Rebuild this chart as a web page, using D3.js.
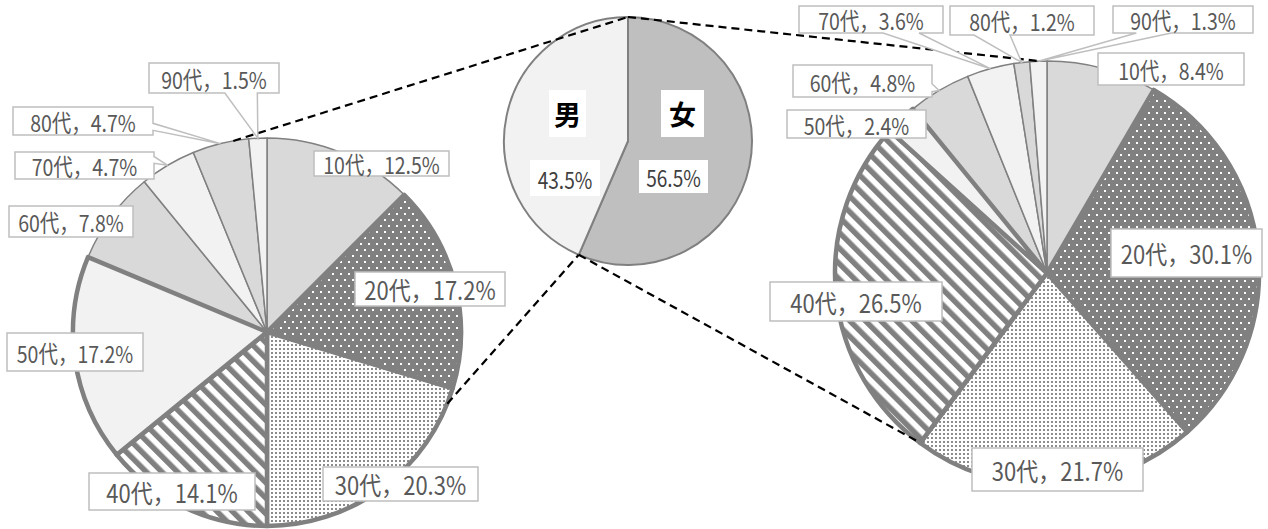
<!DOCTYPE html>
<html><head><meta charset="utf-8">
<script src="https://cdn.jsdelivr.net/npm/d3@7"></script>
<style>
html,body{margin:0;padding:0;background:#fff;}
svg{display:block;}
text{font-family:"Noto Sans CJK JP","Noto Sans",sans-serif;}
</style></head>
<body>
<svg id="chart" width="1268" height="529"></svg>
<script>
// ---- data ----
const categories = ["10代","20代","30代","40代","50代","60代","70代","80代","90代"];
const maleValues = [12.5,17.2,20.3,14.1,17.2,7.8,4.7,4.7,1.5];
const femaleValues = [8.4,30.1,21.7,26.5,2.4,4.8,3.6,1.2,1.3];
const genderLabels = ["女","男"];
const genderValues = [56.5,43.5];

// ---- layout ----
const leftPie = {cx:267, cy:332, r:194};
const midPie = {cx:628, cy:141, r:124};
const rightPie = {cx:1047, cy:273, r:212};
const leftBoxes = [[314,151,135,25],[355,272,150,34],[323,467,155,34],[89,473,166,37],[7,333,136,38],[9,206,124,31],[15,152,139,27],[13,107,140,28],[149,63,130,30]];
const rightBoxes = [[1098,53,146,32],[1111,229,151,48],[972,448,171,43],[770,282,172,39],[787,110,139,28],[793,65,139,32],[799,6,144,27],[950,6,144,29],[1113,6,140,27]];
const genderNameBoxes = [[661,90,43,47],[549,90,37,47]];
const genderPctBoxes = [[639,160,69,33],[530,160,70,36]];
const fills = ["#d9d9d9","url(#darkDots)","url(#lightDots)","url(#stripes)","#f2f2f2","#d9d9d9","#f2f2f2","#d9d9d9","#f2f2f2"];
const thick = [false,true,true,true,true,false,false,false,false];
const largeFont = [false,true,true,true,false,false,false,false,false];

const svg = d3.select("#chart");
const defs = svg.append("defs");
// dark dots
const p1 = defs.append("pattern").attr("id","darkDots").attr("patternUnits","userSpaceOnUse").attr("width",8).attr("height",12);
p1.append("rect").attr("width",8).attr("height",12).attr("fill","#808080");
p1.append("rect").attr("x",1).attr("y",1).attr("width",2).attr("height",2).attr("fill","#fff");
p1.append("rect").attr("x",5).attr("y",7).attr("width",2).attr("height",2).attr("fill","#fff");
// light dots
const p2 = defs.append("pattern").attr("id","lightDots").attr("patternUnits","userSpaceOnUse").attr("width",4).attr("height",4);
p2.append("rect").attr("width",4).attr("height",4).attr("fill","#fff");
p2.append("rect").attr("width",2).attr("height",2).attr("fill","#8c8c8c");
// stripes
const p3 = defs.append("pattern").attr("id","stripes").attr("patternUnits","userSpaceOnUse").attr("width",11).attr("height",11).attr("patternTransform","rotate(-45)");
p3.append("rect").attr("width",11).attr("height",11).attr("fill","#fff");
p3.append("rect").attr("width",5.5).attr("height",11).attr("fill","#808080");

const pie = d3.pie().sort(null).value(d=>d);
const deg = Math.PI/180;
function pt(p, a){ return [p.cx + p.r*Math.sin(a), p.cy - p.r*Math.cos(a)]; }

function drawAgePie(geo, values){
  const arcs = pie(values);
  const arc = d3.arc().innerRadius(0).outerRadius(geo.r);
  const g = svg.append("g").attr("transform",`translate(${geo.cx},${geo.cy})`);
  const order = arcs.map((d,i)=>i).sort((a,b)=>(thick[a]?1:0)-(thick[b]?1:0));
  order.forEach(i=>{
    g.append("path").attr("d",arc(arcs[i])).attr("fill",fills[i])
      .attr("stroke","#808080").attr("stroke-width",thick[i]?4.5:1.5).attr("stroke-linejoin","round");
  });
  return arcs;
}
function condensedText(parent, cx, cy, size, sx, fill, str, weight){
  parent.append("text").attr("transform",`translate(${cx},${cy}) scale(${sx},1)`)
    .attr("text-anchor","middle").attr("dominant-baseline","central")
    .attr("font-size",size).attr("font-weight",weight||"normal").attr("fill",fill).text(str);
}
function drawLabels(geo, values, arcs, boxes){
  const lg = svg.append("g");
  arcs.forEach((d,i)=>{
    const mid = (d.startAngle+d.endAngle)/2;
    const tip = pt(geo, mid);
    const [x,y,w,h] = boxes[i];
    lg.append("path").attr("d",calloutPath(x,y,w,h,tip)).attr("fill","#fff").attr("stroke","#bfbfbf").attr("stroke-width",1.5);
    const big = largeFont[i];
    condensedText(lg, x+w/2, y+h/2+0.5, big?25:23.5, big?0.88:0.83, "#595959", `${categories[i]}，${values[i].toFixed(1)}%`);
  });
}
function calloutPath(x,y,w,h,tip){
  const l=x,t=y,r=x+w,b=y+h,hc=x+w/2,vc=y+h/2;
  const [tx,ty]=tip;
  const inside = tx>=l && tx<=r && ty>=t && ty<=b;
  const dx=tx-hc, dy=ty-vc;
  const dz = Math.abs(dy)-Math.abs(dx*h/w);
  const x1=l+w*(dx>0?7:2)/12, x2=l+w*(dx>0?10:5)/12;
  const y1=t+h*(dy>0?7:2)/12, y2=t+h*(dy>0?10:5)/12;
  let side = inside ? "none" : (dz>0 ? (dy>0?"b":"t") : (dx>0?"r":"l"));
  let p = `M${l},${t}`;
  if(side==="t") p+=`L${x1},${t}L${tx},${ty}L${x2},${t}`;
  p+=`L${r},${t}`;
  if(side==="r") p+=`L${r},${y1}L${tx},${ty}L${r},${y2}`;
  p+=`L${r},${b}`;
  if(side==="b") p+=`L${x2},${b}L${tx},${ty}L${x1},${b}`;
  p+=`L${l},${b}`;
  if(side==="l") p+=`L${l},${y2}L${tx},${ty}L${l},${y1}`;
  return p+"Z";
}

const leftArcs = drawAgePie(leftPie, maleValues);
const rightArcs = drawAgePie(rightPie, femaleValues);

// middle gender pie
const gArcs = pie(genderValues);
const gArc = d3.arc().innerRadius(0).outerRadius(midPie.r);
const gg = svg.append("g").attr("transform",`translate(${midPie.cx},${midPie.cy})`);
const gFills = ["#bfbfbf","#f2f2f2"];
gg.selectAll("path").data(gArcs).join("path").attr("d",gArc).attr("fill",(d,i)=>gFills[i])
  .attr("stroke","#808080").attr("stroke-width",2).attr("stroke-linejoin","round");

// connector dashed lines
const boundary = gArcs[0].endAngle;
const connectors = [
  [pt(leftPie,350*deg), pt(midPie,0)],
  [pt(leftPie,111.7*deg), pt(midPie,boundary)],
  [pt(midPie,0), pt(rightPie,358*deg)],
  [pt(midPie,boundary), pt(rightPie,216.9*deg)]
];
svg.append("g").selectAll("line").data(connectors).join("line")
  .attr("x1",d=>d[0][0]).attr("y1",d=>d[0][1]).attr("x2",d=>d[1][0]).attr("y2",d=>d[1][1])
  .attr("stroke","#000").attr("stroke-width",2.2).attr("stroke-dasharray","8,5");

drawLabels(leftPie, maleValues, leftArcs, leftBoxes);
drawLabels(rightPie, femaleValues, rightArcs, rightBoxes);

// gender labels
const gl = svg.append("g");
genderLabels.forEach((name,i)=>{
  const [x,y,w,h]=genderNameBoxes[i];
  gl.append("rect").attr("x",x).attr("y",y).attr("width",w).attr("height",h).attr("fill","#fff");
  condensedText(gl, x+w/2, y+h/2, 27, 1, "#000", name, "bold");
  const [px,py,pw,ph]=genderPctBoxes[i];
  gl.append("rect").attr("x",px).attr("y",py).attr("width",pw).attr("height",ph).attr("fill","#fff");
  condensedText(gl, px+pw/2, py+ph/2+0.5, 23, 0.83, "#404040", genderValues[i].toFixed(1)+"%");
});
</script>
</body></html>
